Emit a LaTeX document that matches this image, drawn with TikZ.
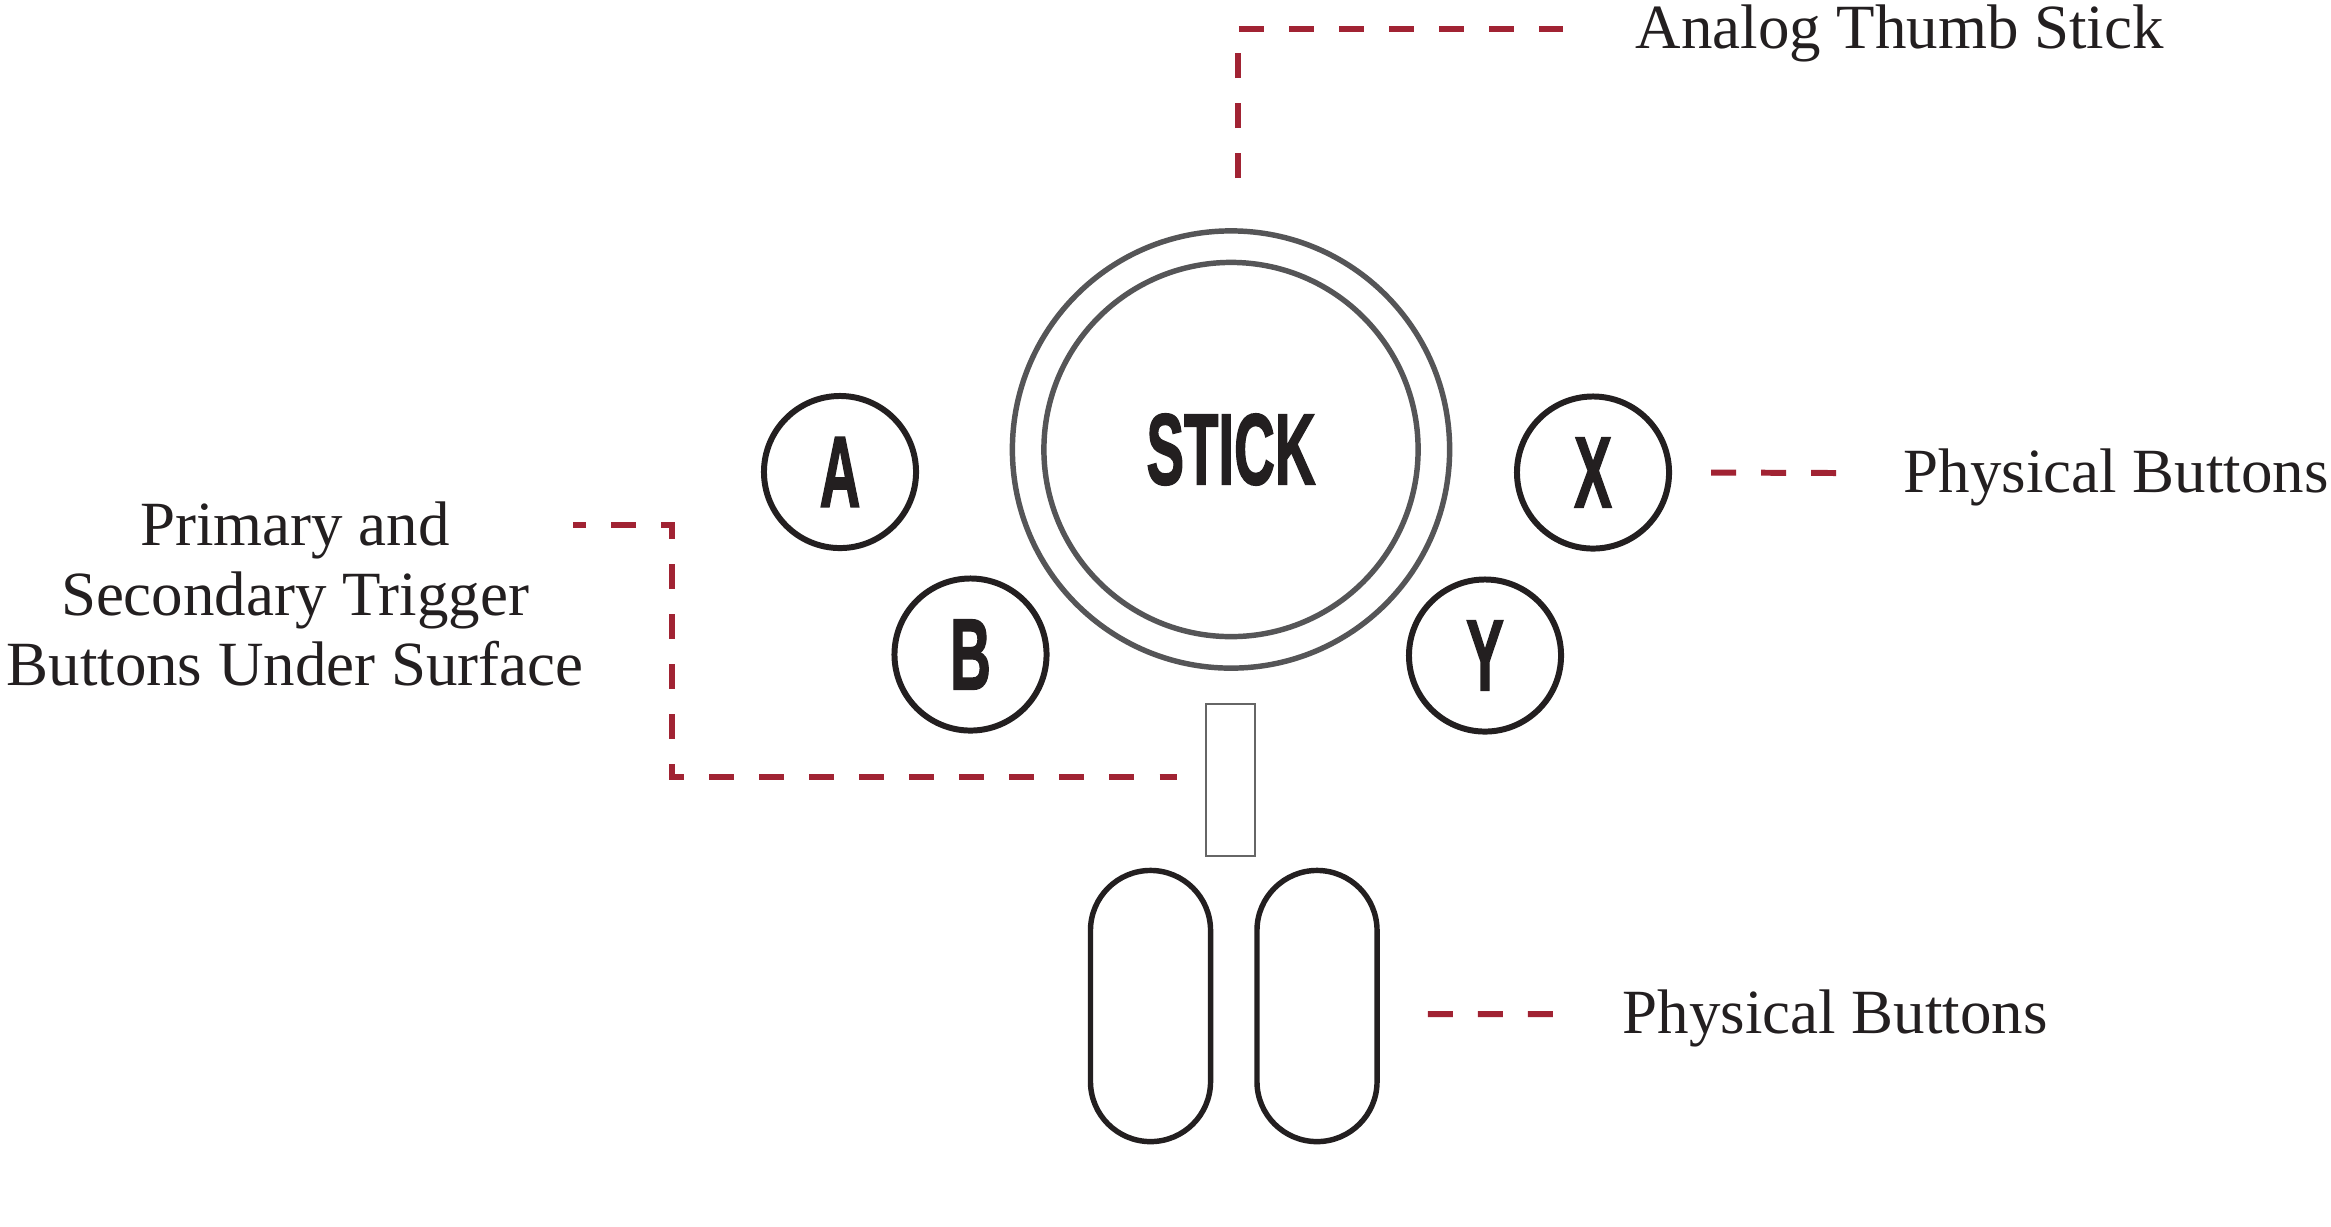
\documentclass[tikz,border=0pt]{standalone}
\usepackage{fontspec}
\usepackage{graphicx}
\setmainfont{Liberation Serif}
\newfontfamily\keyfont{Liberation Sans}[BoldFeatures={FakeBold=2}]
\usepackage{tikz}
\usetikzlibrary{positioning}
\definecolor{leaderred}{HTML}{A12333}
\definecolor{inkdark}{HTML}{231F20}
\definecolor{ringgray}{HTML}{555557}
\newcommand{\keycap}[1]{\scalebox{0.56}[1]{#1}}

\begin{document}
\begin{tikzpicture}[x=0.01cm,y=-0.01cm,
  ring/.style={draw=ringgray,circle,line width=1.55pt,inner sep=0pt},
  keybtn/.style={draw=inkdark,circle,line width=1.7pt,minimum size=1.52cm,inner sep=0pt,text=inkdark,font=\keyfont\bfseries\fontsize{28.6}{30}\selectfont},
  padbtn/.style={draw=inkdark,rectangle,rounded corners=0.6cm,line width=1.55pt,minimum width=1.2cm,minimum height=2.71cm,inner sep=0pt},
  leader/.style={draw=leaderred,line width=1.7pt,dash pattern=on 0.25cm off 0.25cm},
  callout/.style={inner sep=0pt,text=inkdark,font=\fontsize{17.9}{19.8}\selectfont}]
\useasboundingbox (0,0) rectangle (2331,1226);
\fill[white] (0,0) rectangle (2331,1226);

% thumb stick
\node[ring,minimum size=4.37cm] (ring) at (1231,449.5) {};
\node[ring,minimum size=3.74cm,text=inkdark,font=\keyfont\bfseries\fontsize{28.6}{30}\selectfont] (stick) at (1231,449.5) {\keycap{STICK}};

% face buttons
\node[keybtn] (abtn) at (840,472) {\keycap{A}};
\node[keybtn] (bbtn) at (970.5,654.5) {\keycap{B}};
\node[keybtn] (xbtn) at (1593,472.5) {\keycap{X}};
\node[keybtn] (ybtn) at (1485,655.5) {\keycap{Y}};

% trigger slot and lower buttons
\node[draw=black!60,line width=0.57pt,minimum width=0.49cm,minimum height=1.52cm,inner sep=0pt] (trig) at (1230.5,780) {};
\node[padbtn] (padl) at (1150.5,1006) {};
\node[padbtn] (padr) at (1317,1006) {};

% labels
\node[callout,anchor=base west] (analog) at (1635,48) {Analog Thumb Stick};
\node[callout,anchor=base west] (xlabel) at (1903,492) {Physical Buttons};
\node[callout,anchor=base west] (padlabel) at (1622,1033) {Physical Buttons};
\node[callout,align=center] (triglabel) at (295,594) {Primary and\\Secondary Trigger\\Buttons Under Surface};

% leaders
\coordinate (analogpin) at (1563,29);
\coordinate (xpin) at (1836,473);
\coordinate (padpin) at (1553,1014);
\coordinate (triggerpin) at (573,525);
\coordinate (triggerbend) at (672,650);
\draw[leader] ([xshift=0.07cm,yshift=0.5cm]ring.north) |- (analogpin);
\draw[leader] ([xshift=0.39cm]xbtn.east) -- (xpin);
\draw[leader] ([xshift=0.48cm,yshift=-0.08cm]padr.east) -- (padpin);
\draw[leader,dash phase=0.12cm] (triggerpin) -| (triggerbend) |- ([xshift=-0.28cm,yshift=0.03cm]trig.west);
\end{tikzpicture}
\end{document}
